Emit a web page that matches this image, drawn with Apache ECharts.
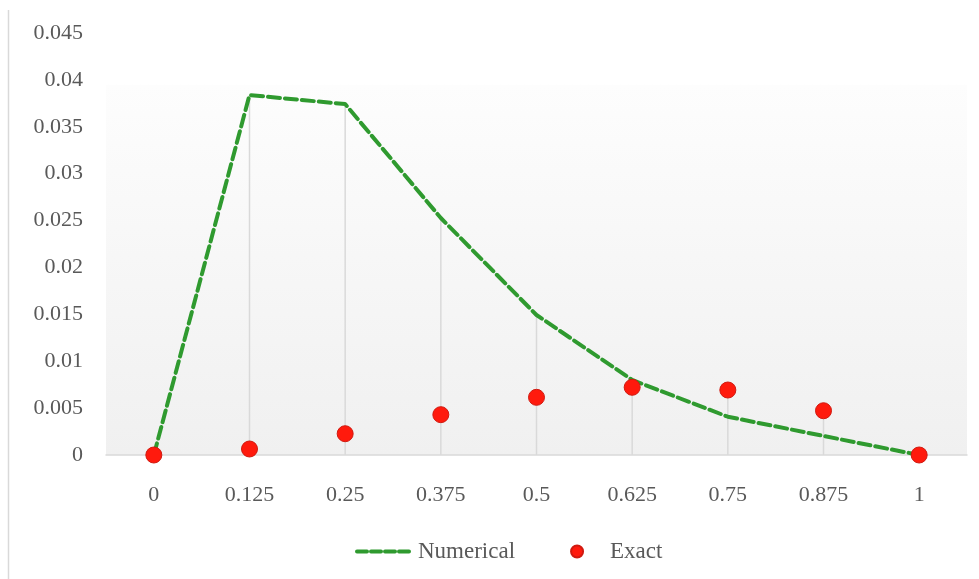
<!DOCTYPE html>
<html>
<head>
<meta charset="utf-8">
<script src="https://cdn.jsdelivr.net/npm/echarts@6/dist/echarts.min.js"></script>
<style>
  html, body { margin: 0; padding: 0; background: #ffffff; }
  #chart { width: 979px; height: 579px; }
</style>
</head>
<body>
<div id="chart"></div>
<script>
// Grid positions along the rod
const categories = ['0', '0.125', '0.25', '0.375', '0.5', '0.625', '0.75', '0.875', '1'];
// Numerical solution
const numerical = [0, 0.03838, 0.03742, 0.02527, 0.01493, 0.0080, 0.00408, 0.00203, 0];
// Exact solution
const exact = [0, 0.00064, 0.00227, 0.0043, 0.00615, 0.00722, 0.00693, 0.00472, 0];
// Value axis ticks
const yMin = 0, yMax = 0.045, yStep = 0.005;

const FONT = 'Liberation Serif';
const TEXT = '#595959';
const LINE_GRAY = '#d9d9d9';
const GREEN = '#2f9a2f';
const RED = '#ff1a0d';

// Drop lines reach from the axis up to the higher of the two series
const dropTops = categories.map((c, i) => [i, Math.max(numerical[i], exact[i])]);

const chart = echarts.init(document.getElementById('chart'), null, { renderer: 'canvas' });

chart.setOption({
  animation: false,
  backgroundColor: '#ffffff',
  textStyle: { fontFamily: FONT },
  graphic: [
    {
      type: 'line',
      shape: { x1: 8.5, y1: 10, x2: 8.5, y2: 579 },
      style: { stroke: LINE_GRAY, lineWidth: 1.5 },
      silent: true
    }
  ],
  grid: {
    left: 106, right: 12, top: 33, bottom: 124,
    show: true,
    borderWidth: 0,
    backgroundColor: new echarts.graphic.LinearGradient(0, 0, 0, 1, [
      { offset: 0, color: '#ffffff' },
      { offset: 0.122, color: '#ffffff' },
      { offset: 0.124, color: '#fdfdfd' },
      { offset: 1, color: '#f0f0f0' }
    ])
  },
  legend: {
    top: 535,
    left: 350,
    itemGap: 34,
    itemWidth: 56,
    itemHeight: 15,
    textStyle: { fontFamily: FONT, fontSize: 23, color: TEXT },
    data: [
      {
        name: 'Numerical',
        itemStyle: { opacity: 0 },
        lineStyle: { width: 4, type: [10, 4], color: GREEN }
      },
      { name: 'Exact' }
    ]
  },
  xAxis: {
    type: 'category',
    data: categories,
    boundaryGap: true,
    axisLine: { show: true, lineStyle: { color: LINE_GRAY, width: 1.5 } },
    axisTick: { show: false },
    axisLabel: { fontFamily: FONT, fontSize: 22, color: TEXT, margin: 29 },
    splitLine: { show: false }
  },
  yAxis: {
    type: 'value',
    min: yMin, max: yMax, interval: yStep,
    axisLine: { show: false },
    axisTick: { show: false },
    splitLine: { show: false },
    axisLabel: {
      fontFamily: FONT, fontSize: 22, color: TEXT, margin: 23,
      formatter: v => String(+v.toFixed(4))
    }
  },
  series: [
    {
      name: 'drop',
      type: 'custom',
      silent: true,
      z: 1,
      data: dropTops,
      renderItem: function (params, api) {
        const top = api.coord([api.value(0), api.value(1)]);
        const bot = api.coord([api.value(0), 0]);
        return {
          type: 'line',
          shape: { x1: top[0], y1: top[1], x2: bot[0], y2: bot[1] },
          style: { stroke: LINE_GRAY, lineWidth: 1.5 }
        };
      }
    },
    {
      name: 'Numerical',
      type: 'line',
      data: numerical,
      z: 3,
      symbol: 'none',
      color: GREEN,
      lineStyle: { color: GREEN, width: 4, type: [12, 5], cap: 'round' }
    },
    {
      name: 'Exact',
      type: 'line',
      data: exact,
      z: 4,
      lineStyle: { width: 0, opacity: 0 },
      symbol: 'circle',
      symbolSize: 16,
      showAllSymbol: true,
      color: RED,
      itemStyle: { color: RED, borderColor: '#d01a10', borderWidth: 1 }
    }
  ]
});
</script>
</body>
</html>
